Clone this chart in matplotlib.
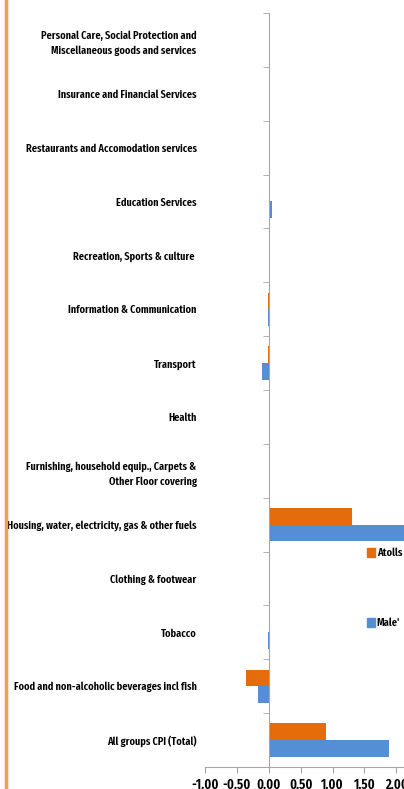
import numpy as np
import matplotlib
matplotlib.use('Agg')
from matplotlib import pyplot as plt
from matplotlib.patches import Patch
from matplotlib.lines import Line2D

# categories listed bottom to top
categories = ['All groups CPI (Total)',
              'Food and non-alcoholic beverages incl fish',
              'Tobacco',
              'Clothing & footwear',
              'Housing, water, electricity, gas & other fuels',
              'Furnishing, household equip., Carpets &\nOther Floor covering',
              'Health',
              'Transport',
              'Information & Communication',
              'Recreation, Sports & culture ',
              'Education Services',
              'Restaurants and Accomodation services',
              'Insurance and Financial Services',
              'Personal Care, Social Protection and\nMiscellaneous goods and services']
atolls = [0.90, -0.35, 0.00, 0.00, 1.30, 0.00, 0.00, -0.01, -0.01, 0.00, 0.00, 0.00, 0.00, 0.00]
male = [1.89, -0.17, -0.01, 0.00, 2.25, 0.00, 0.00, -0.10, -0.01, 0.00, 0.05, 0.00, 0.00, 0.01]
xticks = [-1.0, -0.5, 0.0, 0.5, 1.0, 1.5, 2.0]

plt.rcParams['font.family'] = ['Fira Sans Extra Condensed', 'DejaVu Sans']
plt.rcParams['font.weight'] = 'semibold'
fs = 8

fig = plt.figure(figsize=(4.04, 7.89), dpi=100)
ax = fig.add_axes([205/404, 1-767/789, 1-205/404, (767-13)/789])

y = np.arange(len(categories))
h = 0.31
ax.barh(y + h/2, atolls, height=h, color='#E46C0A', label='Atolls')
ax.barh(y - h/2, male, height=h, color='#558ED5', label="Male'")

for s in ['top', 'right']:
    ax.spines[s].set_visible(False)
ax.spines['left'].set_position(('data', 0))
ax.spines['left'].set_color('#A6A6A6')
ax.spines['bottom'].set_color('#A6A6A6')
ax.tick_params(axis='y', which='major', length=0, pad=52, labelsize=fs)
ax.tick_params(axis='y', which='minor', length=4, color='#A6A6A6')
ax.tick_params(axis='x', length=4, color='#A6A6A6', pad=4, labelsize=10)

ax.set_xlim(-1.0, 2.12)
ax.set_ylim(-0.5, len(categories) - 0.5)
ax.set_xticks(xticks)
ax.set_xticklabels(['%.2f' % v for v in xticks], fontsize=10, fontweight='semibold')
ax.set_yticks(y)
ax.set_yticklabels(categories, fontsize=fs, fontweight='semibold', ha='right', linespacing=1.5)
ax.set_yticks(np.arange(len(categories) + 1) - 0.5, minor=True)

handles = [Patch(color='#E46C0A'), Patch(color='#558ED5')]
fig.legend(handles, ['Atolls', "Male'"], loc='upper left',
           bbox_to_anchor=(362/404, 1-543/789), frameon=False,
           fontsize=8.2, labelspacing=5.2, handlelength=0.7, handleheight=0.9,
           handletextpad=0.2, borderaxespad=0)

# orange frame line at the left edge
fig.add_artist(Line2D([6/404, 6/404], [0, 1], color='#F79F43', lw=2.5))

fig.savefig('out.png', dpi=100)
